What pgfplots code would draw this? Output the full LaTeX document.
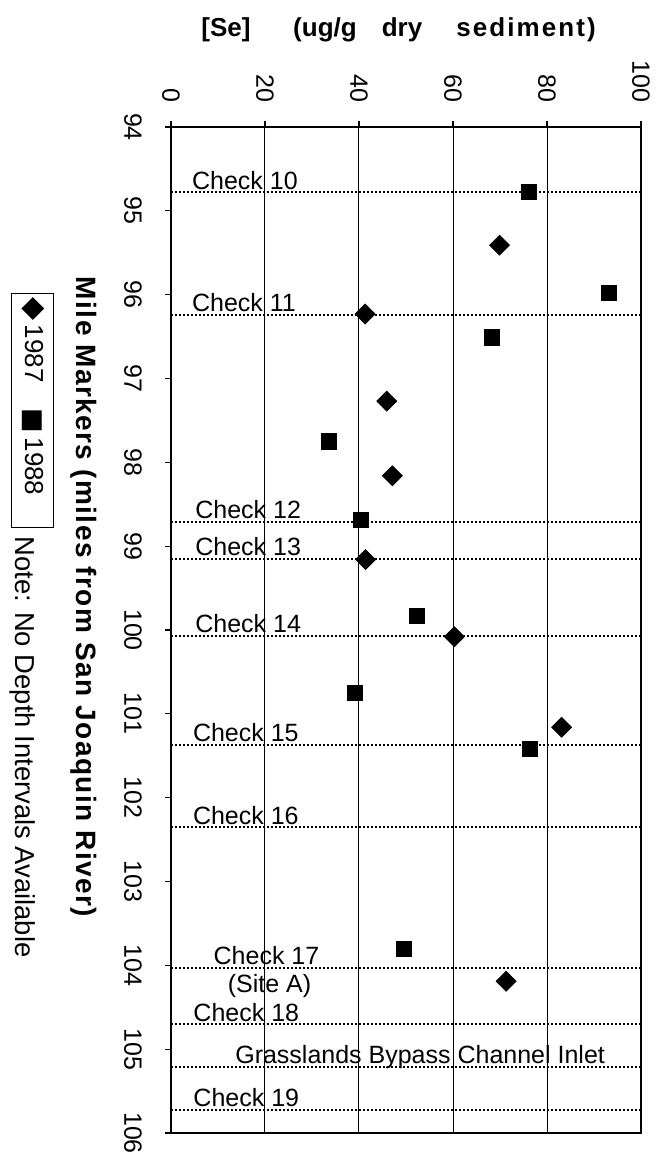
\documentclass[border=0pt]{standalone}
\usepackage{fontspec}
\setmainfont{Liberation Sans}
\newfontfamily\dejavu{DejaVu Sans}
\usepackage{pgfplots}
\pgfplotsset{compat=1.18}
\begin{document}
\begin{tikzpicture}
\path[use as bounding box] (-85.5pt,-14pt) rectangle (244pt,566.5pt);
\begin{axis}[
 at={(0pt,0pt)}, anchor=south west,
 width=235pt, height=503pt, scale only axis,
 xmin=0, xmax=100, ymin=94, ymax=106, y dir=reverse,
 xtick={0,20,...,100}, ytick={94,95,...,106},
 xtick pos=upper, xticklabel pos=upper, ytick pos=left,
 tick align=outside, major tick length=3pt,
 xmajorgrids, grid style={black, line width=0.5pt},
 axis line style={line width=1pt},
 every tick/.style={black, line width=0.6pt},
 ticklabel style={font=\fontsize{12.5}{14}\selectfont},
 /pgf/number format/assume math mode=true,
 xticklabel style={rotate=-90, anchor=east},
 yticklabel style={rotate=-90, anchor=north},
 xticklabel shift=6pt, yticklabel shift=8pt,
 ylabel={Mile Markers (miles from San Joaquin River)},
 ylabel style={font=\bfseries\fontsize{14}{16}\selectfont\addfontfeatures{LetterSpace=5}, rotate=180, at={(axis description cs:-0.1851,0.5328)}, anchor=center},
]
\addplot[only marks, mark=square*, mark size=3.5pt, mark options={rotate=45, fill=black, draw=black}] coordinates {
 (69.9,95.41) (41.3,96.23) (45.9,97.27) (47.1,98.16) (41.4,99.16) (60.3,100.08) (83.1,101.16) (71.3,104.19)};
\addplot[only marks, mark=square*, mark size=3.8pt, mark options={fill=black, draw=black}] coordinates {
 (76.2,94.77) (93.2,95.98) (68.2,96.51) (33.6,97.75) (40.4,98.69) (52.3,99.83) (39.2,100.75) (76.3,101.42) (49.6,103.80)};
% check lines
\pgfplotsinvokeforeach{94.78,96.24,98.71,99.15,100.07,101.37,102.35,104.03,104.70,105.21,105.72}{
 \addplot[forget plot, black, line width=1pt, dash pattern=on 0.9pt off 1.1pt] coordinates {(0,#1) (100,#1)};
}
\begin{scope}[every node/.style={anchor=base west, yshift=1.5pt, inner sep=0pt, font=\fontsize{12.5}{14}\selectfont}]
\node at (axis cs:4.4,94.78) {Check 10};
\node at (axis cs:4.4,96.24) {Check 11};
\node at (axis cs:5.1,98.71) {Check 12};
\node at (axis cs:5.1,99.15) {Check 13};
\node at (axis cs:5.1,100.07) {Check 14};
\node at (axis cs:4.6,101.37) {Check 15};
\node at (axis cs:4.6,102.35) {Check 16};
\node at (axis cs:9.0,104.03) {Check 17};
\node at (axis cs:12.0,104.36) {(Site A)};
\node at (axis cs:4.7,104.70) {Check 18};
\node at (axis cs:13.6,105.21) {Grasslands Bypass Channel Inlet};
\node at (axis cs:4.7,105.72) {Check 19};
\end{scope}
\end{axis}
\begin{scope}[every node/.style={anchor=base, inner sep=0pt, font=\bfseries\fontsize{13}{15}\selectfont}]
\node at (27.5pt,548pt) {[Se]};
\node at (77pt,548pt) {(ug/g};
\node at (115.5pt,548pt) {dry};
\node at (177.5pt,548pt) {\addfontfeatures{LetterSpace=8}sediment)};
\end{scope}
% legend
\node[rotate=-90, draw=black, line width=0.5pt, anchor=west, inner xsep=2pt, inner ysep=3pt, minimum height=21pt,
  text width=113pt, align=left, font=\fontsize{13}{15}\selectfont] at (-69pt,420pt)
  {{\dejavu\fontsize{15}{15}\selectfont ◆}\,1987\hspace{13pt}{\dejavu ■}\,1988};
\node[rotate=-90, font=\fontsize{13.7}{16}\selectfont] at (-74pt,193pt) {Note: No Depth Intervals Available};
\end{tikzpicture}
\end{document}
